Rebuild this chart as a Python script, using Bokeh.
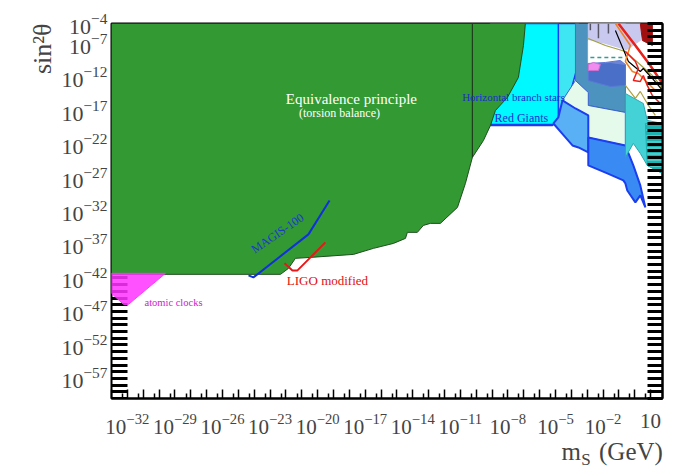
import numpy as np
from bokeh.plotting import figure
from bokeh.models import Range1d, LogAxis, FixedTicker, Label, Title
from bokeh.embed import file_html
from bokeh.resources import INLINE

# all values are log10 exponents: x = m_S [GeV], y = sin^2(theta)
x_lim = [-33, 1.75]
y_lim = [-60, -4]

x_label_exp = [-32, -29, -26, -23, -20, -17, -14, -11, -8, -5, -2, 1]
y_label_exp = [-4, -7, -12, -17, -22, -27, -32, -37, -42, -47, -52, -57]

# x title pieces: "m", subscript "S", "(GeV)" centred at these exponents
x_title_exp = [-4.0, -3.08, -0.24]

# equivalence principle (torsion balance)
green_lx = [-33, -6.90, -7.02, -7.34, -8.03, -8.79, -9.10, -9.54, -10.24, -10.68, -11.18,
            -12.26, -12.89, -13.33, -13.71, -14.34, -14.46, -15.22, -16.48, -17.74, -20.45,
            -21.40, -21.84, -22.34, -33]
green_ly = [-4, -4, -7.28, -12.06, -15.04, -17.0, -19.22, -21.46, -24.0, -27.88, -31.46,
            -33.85, -33.85, -34.15, -35.19, -35.19, -36.09, -36.84, -37.58, -38.48, -38.93,
            -39.07, -40.57, -41.46, -41.46]
sep_lx = [-10.24, -10.24]
sep_ly = [-4, -24.0]

# atomic clocks
ac_lx = [-33, -29.60, -31.93, -32.24, -33]
ac_ly = [-41.31, -41.31, -45.94, -45.94, -44.30]

# projections
magis_lx = [-24.36, -24.05, -20.58, -19.25]
magis_ly = [-41.61, -41.91, -35.49, -30.42]
ligo_lx = [-22.09, -21.59, -21.27, -20.45, -19.51]
ligo_ly = [-39.82, -40.87, -40.87, -38.93, -36.69]

# stellar bounds
hb_lx = [-9.10, -3.55, -3.68, -4.06, -4.69, -4.94, -5.19, -9.10]
hb_ly = [-4, -4, -11.01, -14.30, -16.69, -18.48, -19.22, -19.22]
rg_lx = [-9.10, -4.82, -4.82, -5.13, -9.10]
rg_ly = [-4, -4, -18.03, -19.07, -19.07]

# high mass region
sb_lx = [-3.74, -0.59, -0.59, -2.93, -2.93, -3.74]
sb_ly = [-4, -4, -17.28, -16.24, -14.75, -12.51]
lav_lx = [-2.93, 0.35, 0.35, -0.59, -1.85, -2.93]
lav_ly = [-4, -4, -6.54, -8.03, -7.13, -6.54]
wh_lx = [-2.93, -1.85, -0.59, -0.59, -1.54, -2.93]
wh_ly = [-6.54, -7.13, -8.03, -10.12, -9.82, -9.97]
dash_lx = [-2.80, -0.59]
dash_ly = [-9.07, -9.07]
blob_lx = [-2.93, -1.85, -0.91, -0.59, -0.59, -1.54, -2.93]
blob_ly = [-9.97, -9.82, -9.52, -10.12, -13.25, -13.40, -12.51]
pink_lx = [-2.93, -2.61, -2.17, -2.29, -2.93]
pink_ly = [-10.12, -9.82, -10.12, -11.01, -11.01]
pg_lx = [-4.56, -3.74, -2.93, -2.93, -0.59, -0.59, -2.93, -2.93, -3.74]
pg_ly = [-15.49, -12.51, -14.30, -16.24, -17.28, -22.21, -21.01, -17.73, -16.69]
lb_lx = [-5.13, -4.82, -4.56, -3.74, -2.93, -2.93, -3.55, -3.93, -4.37]
lb_ly = [-18.93, -18.03, -15.49, -16.69, -17.73, -23.25, -22.51, -22.21, -21.01]
bl_lx = [-2.93, -0.59, -0.47, -0.09, 0.35, 0.67, 0.35, 0.04, -0.47, -0.59, -0.72, -1.73, -2.93]
bl_ly = [-21.01, -22.21, -22.96, -25.19, -28.18, -31.46, -29.67, -30.72, -28.93, -27.88,
         -27.43, -26.39, -25.19]
tq_lx = [-0.59, 0.54, 0.79, 1.75, 1.75, 0.79, 0.35, -0.09, -0.59]
tq_ly = [-14.45, -15.94, -18.48, -18.93, -26.39, -25.19, -23.40, -21.91, -24.0]
tqd_lx = [0.67, 1.75, 1.75, 0.79]
tqd_ly = [-18.93, -18.93, -26.39, -25.19]
dr_lx = [0.35, 1.11, 1.11, 0.48]
dr_ly = [-4, -4, -7.28, -6.54]

vert_lx = [[-2.80, -2.80], [-2.29, -2.29], [-1.66, -1.66]]
vert_ly = [[-4, -5.0], [-4, -6.2], [-4, -5.5]]

red1_lx = [-1.03, 0.04, 0.98, 1.75]
red1_ly = [-4, -7.28, -10.27, -12.96]
red2_lx = [-0.59, 0.04, 0.23, -0.09, 0.35, 0.54, 0.79, 1.11, 1.75]
red2_ly = [-8.18, -9.67, -10.72, -12.51, -12.66, -11.76, -13.25, -14.75, -16.24]
orange_lx = [-1.22, -0.28, -0.59, -0.15, 0.23, 0.67, 1.30]
orange_ly = [-4, -7.28, -9.67, -11.16, -11.46, -12.51, -14.0]
black_lx = [-1.22, -0.40, 0.35, 0.54, 1.11, 1.75]
black_ly = [-5.04, -9.67, -11.16, -10.72, -12.21, -14.0]
olive1_lx = [-2.93, -1.85, -0.59, 1.11, 1.75]
olive1_ly = [-6.24, -7.28, -8.18, -11.76, -13.70]
olive2_lx = [-0.59, 0.04, 0.35, 0.86, 1.30]
olive2_ly = [-13.25, -15.19, -14.15, -16.24, -17.73]


def e(v):
    return 10.0 ** np.array(v, dtype=float)


SERIF = "Liberation Serif"

p = figure(frame_width=551, frame_height=375, x_axis_type="log", y_axis_type="log",
           x_range=Range1d(10.0 ** x_lim[0], 10.0 ** x_lim[1]),
           y_range=Range1d(10.0 ** y_lim[0], 10.0 ** y_lim[1]),
           min_border_left=111, min_border_right=35, min_border_top=23, min_border_bottom=70,
           output_backend="svg", toolbar_location=None)
p.grid.visible = False
p.outline_line_color = "black"
p.outline_line_width = 2

blue_edge = "#1b3ef0"
p.patch(e(hb_lx), e(hb_ly), fill_color="#3ee6f4", line_color=blue_edge, line_width=1.5)
p.patch(e(rg_lx), e(rg_ly), fill_color="#00f8ff", line_color=blue_edge, line_width=1.5)
p.patch(e(green_lx), e(green_ly), fill_color="#339933", line_color="#1f4f1f", line_width=1)
p.line(e(sep_lx), e(sep_ly), line_color="#1d3d1d", line_width=1.2)
p.patch(e(ac_lx), e(ac_ly), fill_color="#ff33ff", fill_alpha=0.85, line_color="#ff33ff")

p.patch(e(sb_lx), e(sb_ly), fill_color="#4d93bf", line_color="#3f7f7f", line_width=1)
p.patch(e(lav_lx), e(lav_ly), fill_color="#c9c9ef", line_color="#c9c9ef")
p.patch(e(wh_lx), e(wh_ly), fill_color="white", line_color="white")
p.line(e(dash_lx), e(dash_ly), line_color="#2e9e9a", line_width=1.5, line_dash="4 3")
p.patch(e(blob_lx), e(blob_ly), fill_color="#4a66cc", fill_alpha=0.8, line_color="#5a78d8")
p.patch(e(pink_lx), e(pink_ly), fill_color="#f08cf0", line_color="#d070d0")
p.patch(e(pg_lx), e(pg_ly), fill_color="#e6faec", line_color="#3a5fd8", line_width=1)
p.patch(e(lb_lx), e(lb_ly), fill_color="#5ab0f5", line_color=blue_edge, line_width=2)
p.patch(e(bl_lx), e(bl_ly), fill_color="#3a8af3", line_color=blue_edge, line_width=2)
p.patch(e(tq_lx), e(tq_ly), fill_color="#45d2d6", line_color="#2aa8b0", line_width=1)
p.patch(e(tqd_lx), e(tqd_ly), fill_color="#1fb2b0", line_color="#1fb2b0",
        hatch_pattern="-", hatch_color="#7fe0e0", hatch_scale=6)
p.patch(e(dr_lx), e(dr_ly), fill_color="#a01010", line_color="#a01010")

p.multi_line([list(e(v)) for v in vert_lx], [list(e(v)) for v in vert_ly],
             line_color="#555566", line_width=1.5)
p.line(e(olive1_lx), e(olive1_ly), line_color="#a0a040", line_width=1.2)
p.line(e(olive2_lx), e(olive2_ly), line_color="#b0a040", line_width=1.2)
p.line(e(black_lx), e(black_ly), line_color="black", line_width=1.2)
p.line(e(orange_lx), e(orange_ly), line_color="#f08020", line_width=1.5)
p.line(e(red2_lx), e(red2_ly), line_color="#e8201a", line_width=1.5)
p.line(e(red1_lx), e(red1_ly), line_color="#e8201a", line_width=2.5)

p.line(e(magis_lx), e(magis_ly), line_color="#1030dd", line_width=2)
p.line(e(ligo_lx), e(ligo_ly), line_color="#e81818", line_width=2)

# x axis
x_all = list(range(-33, 2))
p.xaxis.ticker = FixedTicker(ticks=[float(f"1e{k}") for k in x_all],
                             minor_ticks=[5.0 * 10.0 ** (k - 1) for k in x_all])
p.xaxis.major_label_overrides = {float(f"1e{k}"): ("10" if k == 1 else "")
                                 for k in x_all if k not in x_label_exp or k == 1}
p.xaxis.major_tick_in = 9
p.xaxis.major_tick_out = 0
p.xaxis.minor_tick_in = 5
p.xaxis.minor_tick_out = 0
p.xaxis.major_tick_line_width = 1.5
p.xaxis.minor_tick_line_width = 1.5
p.xaxis.axis_line_width = 2
p.xaxis.major_label_standoff = 15
p.xaxis.major_label_text_font = SERIF
p.xaxis.major_label_text_font_size = "21px"

# x title drawn as labels of two extra bottom axes ("m", "(GeV)" and the subscript "S")
t_pos = [float(10.0 ** v) for v in x_title_exp]
title_main = LogAxis(ticker=FixedTicker(ticks=[t_pos[0], t_pos[2]], minor_ticks=[]),
                     major_label_overrides={t_pos[0]: "m", t_pos[2]: "(GeV)"},
                     major_tick_in=0, major_tick_out=0, minor_tick_in=0, minor_tick_out=0,
                     axis_line_color=None, major_label_standoff=1,
                     major_label_text_font=SERIF, major_label_text_font_size="25px")
p.add_layout(title_main, "below")
title_sub = LogAxis(ticker=FixedTicker(ticks=[t_pos[1]], minor_ticks=[]),
                    major_label_overrides={t_pos[1]: "S"},
                    major_tick_in=0, major_tick_out=0, minor_tick_in=0, minor_tick_out=0,
                    axis_line_color=None, major_label_standoff=-18,
                    major_label_text_font=SERIF, major_label_text_font_size="17px")
p.add_layout(title_sub, "below")

# left: tick bars drawn beneath the filled regions, labels on an outer axis
y_all = list(range(-60, -3))
p.yaxis.ticker = FixedTicker(ticks=[], minor_ticks=[float(f"1e{k}") for k in y_all])
p.yaxis.minor_tick_in = 16
p.yaxis.minor_tick_out = 0
p.yaxis.minor_tick_line_width = 3
p.yaxis.major_tick_in = 0
p.yaxis.major_tick_out = 0
p.yaxis.axis_line_color = None
p.yaxis.level = "underlay"

y_labels = LogAxis(ticker=FixedTicker(ticks=[float(f"1e{k}") for k in y_label_exp], minor_ticks=[]),
                   major_tick_in=0, major_tick_out=0, minor_tick_in=0, minor_tick_out=0,
                   axis_line_color=None, major_label_standoff=4,
                   major_label_text_font=SERIF, major_label_text_font_size="22px")
p.add_layout(y_labels, "left")

right = LogAxis(ticker=FixedTicker(ticks=[], minor_ticks=[float(f"1e{k}") for k in y_all]),
                minor_tick_in=15, minor_tick_out=0, minor_tick_line_width=3,
                major_tick_in=0, major_tick_out=0, axis_line_width=2)
p.add_layout(right, "right")

p.add_layout(Title(text="sin\u00b2\u03b8", align="right", text_font=SERIF, text_font_size="26px",
                   text_font_style="normal", standoff=4), "left")


# texts inside the frame
def lab(lx, ly, text, size, color, angle=0.0):
    p.add_layout(Label(x=10.0 ** lx, y=10.0 ** ly, text=text, text_font=SERIF,
                       text_font_size=size, text_color=color, angle=angle,
                       text_align="center", text_baseline="middle"))


lab(-17.87, -15.34, "Equivalence principle", "15px", "white")
lab(-18.62, -17.43, "(torsion balance)", "12px", "white")
lab(-7.65, -15.04, "Horizontal branch stars", "11px", "#1a2fd0")
lab(-7.15, -18.18, "Red Giants", "12px", "#1a2fd0")
lab(-22.53, -35.34, "MAGIS-100", "12px", "#1a3acc", angle=0.6)
lab(-19.38, -42.36, "LIGO modified", "13px", "#e01010")
lab(-29.09, -45.64, "atomic clocks", "10.5px", "#cc22cc")

open("out.html", "w").write(file_html(p, INLINE))
